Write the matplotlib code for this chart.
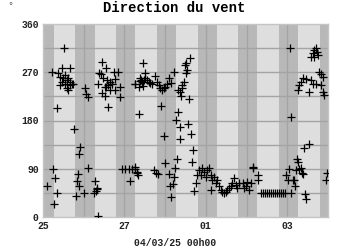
import matplotlib
matplotlib.use("Agg")
import matplotlib.pyplot as plt
import numpy as np

# heures depuis le 25/02 00h00, direction en degres
heures = [
    2.5, 6.1, 7.1, 8.1, 6.5, 5.5, 9.1, 12.4, 11.4, 16.0, 8.5,
    10.1, 12.0, 13.0, 14.0, 15.0, 16.0, 17.0, 17.9, 11.1, 10.1, 14.0, 15.0, 13.0, 16.0,
    18.5, 22.1, 21.5, 20.5, 19.9, 21.1, 19.5, 24.4, 26.4,
    24.8, 25.3, 26.8, 30.8, 31.8, 31.2, 32.1, 30.2, 32.7,
    34.5, 37.3, 33.3, 34.1, 41.6, 44.2, 35.3, 37.7, 39.6, 40.6, 42.6, 38.6, 36.3, 32.7,
    45.6, 42.2, 39.6, 34.7, 36.3, 45.6, 38.6, 40.8, 37.3,
    46.6, 48.5, 50.5, 52.5, 54.4, 55.4, 55.9, 51.5,
    54.0, 57.0, 56.4, 54.4, 58.0, 59.9, 58.7, 57.4, 58.4, 59.3, 61.3, 62.3, 63.3, 64.3,
    60.3, 66.3, 67.3, 68.2, 69.2, 70.2, 71.2, 72.2, 73.2, 74.1, 75.6, 77.1, 56.8, 58.7,
    54.4, 55.4, 65.3, 66.7, 67.9, 69.8, 71.2, 72.2, 74.1, 77.5, 78.1, 79.1, 76.5, 75.1, 75.5,
    79.7, 78.5, 80.5, 81.0, 85.6, 87.0, 88.3, 88.0,
    79.7, 81.0, 82.1, 83.0, 84.0, 85.0, 84.0, 86.4, 83.6, 81.6, 86.0, 82.2,
    90.9, 89.9, 88.9, 91.9, 92.9, 93.9, 94.8, 95.8, 96.8, 97.8, 98.8, 99.8, 100.8, 98.8,
    101.8, 102.8, 103.7, 104.7, 105.7, 106.7, 107.7, 108.7, 109.6, 110.6, 111.6, 112.6,
    113.6, 114.6, 115.5, 117.6, 118.5, 119.5, 120.5, 121.5, 122.5, 123.5, 124.0, 126.5, 127.0,
    128.4, 129.6, 130.8, 132.0, 133.2, 134.3, 135.5, 136.7, 137.9, 139.1, 140.2, 141.4, 142.6, 146.1,
    145.7, 146.1,
    152.0, 153.2, 155.0, 158.0, 150.1, 150.9, 157.0, 159.0, 160.9, 163.9, 164.9, 165.5,
    162.9, 163.6, 164.9,
    160.9, 159.9, 159.1, 157.9, 159.7, 161.9, 161.3,
    143.2, 144.5, 145.1, 147.1, 148.1, 148.5, 149.1, 149.7, 150.3, 151.0, 152.0, 152.5,
    153.0, 154.0, 156.7, 154.4, 155.0, 167.4, 166.8,
]
direction = [
    57, 90, 72, 45, 24, 270, 268, 315, 277, 277, 203,
    262, 259, 265, 256, 259, 252, 249, 249, 252, 246, 240, 237, 249, 246,
    164, 130, 118, 80, 68, 57, 40, 45, 91,
    240, 229, 224, 68, 52, 49, 55, 45, 1,
    289, 278, 269, 267, 271, 270, 259, 256, 252, 249, 257, 246, 243, 248,
    242, 236, 237, 231, 226, 224, 206, 248, 242,
    90, 90, 90, 90, 90, 84, 79, 68,
    248, 254, 192, 249, 256, 269, 288, 259, 252, 256, 256, 252, 250, 249,
    259, 263, 252, 246, 240, 237, 240, 243, 249, 259, 250, 271, 242, 244,
    94, 82, 88, 83, 80, 207, 152, 101, 80, 75, 91, 109, 62, 57, 38,
    196, 181, 168, 145, 173, 154, 125, 103,
    237, 233, 246, 252, 268, 274, 287, 296, 284, 226, 221, 241,
    78, 63, 49, 88, 78, 91, 84, 75, 88, 91, 78, 69, 75, 50,
    63, 69, 57, 50, 47, 45, 47, 50, 54, 57, 63, 72,
    60, 54, 63, 63, 54, 57, 65, 50, 64, 91, 93, 78, 69,
    45, 45, 45, 45, 45, 45, 45, 45, 45, 45, 45, 45, 45, 45,
    315, 187,
    252, 259, 257, 256, 237, 246, 234, 249, 248, 246, 234, 228,
    271, 267, 262,
    315, 312, 306, 298, 298, 302, 308,
    78, 69, 90, 69, 69, 57, 88, 109, 103, 89, 91, 82,
    81, 128, 137, 43, 34, 83, 69,
]
jours_pos = [0, 48, 96, 144]
jours_lab = ["25", "27", "01", "03"]
y_ticks = [0, 90, 180, 270, 360]

lever, coucher = 6.4, 19.1   # heures approx. du jour

fig = plt.figure(figsize=(3.5, 2.5), dpi=100)
ax = fig.add_axes([43/350, 33/250, 285/350, 193/250])
ax.set_facecolor("#dedede")

for d in range(8):
    debut = d*24 - 24 + coucher
    fin = d*24 + lever
    ax.axvspan(max(debut, 0), min(fin, 168), color="#b8b8b8", lw=0, zorder=0)

for h in range(24, 168, 24):
    ax.axvline(h, color="#a4a4a4", lw=1, zorder=1)
for g in range(45, 360, 45):
    ax.axhline(g, color="#a4a4a4", lw=1, zorder=1)

ax.plot(heures, direction, "+", color="black", ms=5.5, mew=0.9, zorder=3)

ax.set_xlim(0, 168)
ax.set_ylim(0, 360)
ax.set_xticks(jours_pos)
ax.set_xticklabels(jours_lab)
ax.set_yticks(y_ticks)
ax.tick_params(length=0, labelsize=7, pad=3, colors="#222222")
for lab in ax.get_xticklabels() + ax.get_yticklabels():
    lab.set_family("Liberation Mono")
    lab.set_weight("bold")
for s in ax.spines.values():
    s.set_color("#c4c4c4")
    s.set_linewidth(1)

fig.text(174/350, 1 - 8/250, "Direction du vent", ha="center", va="center",
         family="Liberation Mono", weight="bold", fontsize=10)
fig.text(175/350, 1 - 243/250, "04/03/25 00h00", ha="center", va="center",
         family="Liberation Mono", weight="bold", fontsize=7, color="#222222")
fig.text(10/350, 1 - 7/250, "°", ha="center", va="center", fontsize=6, color="#555555")

fig.savefig("out.png", dpi=100)
